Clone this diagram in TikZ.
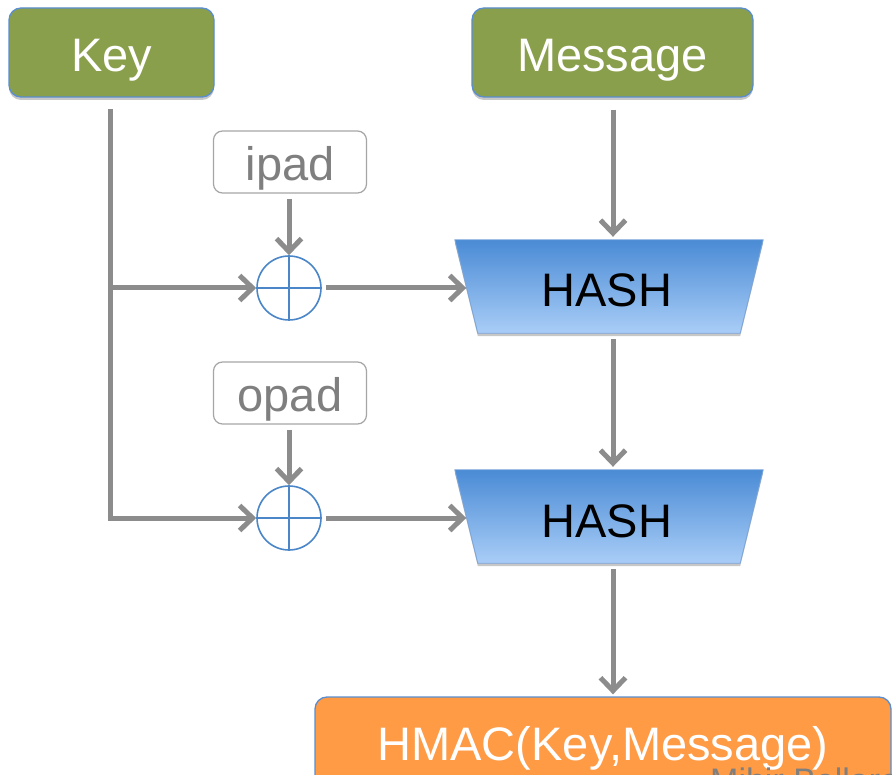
\documentclass[tikz,border=0pt]{standalone}
\usepackage{fontspec}
\setmainfont{Liberation Sans}
\usetikzlibrary{arrows.meta,shadows,calc}

\definecolor{keygreen}{HTML}{8A9F4B}
\definecolor{edgeblue}{HTML}{5A8ED0}
\definecolor{linegray}{HTML}{8C8C8C}
\definecolor{padgray}{HTML}{7F7F7F}
\definecolor{padedge}{HTML}{A6A6A6}
\definecolor{hashtop}{HTML}{4A8BD5}
\definecolor{hashbot}{HTML}{A9CDF7}
\definecolor{outorange}{HTML}{FF9A45}
\definecolor{xorblue}{HTML}{4A86C8}

\tikzset{
  bigfont/.style={font=\fontsize{47}{56}\selectfont},
  softshadow/.style={drop shadow={shadow xshift=0pt,shadow yshift=-3pt,opacity=.22,fill=black}},
  inputbox/.style={rectangle, rounded corners=12pt, draw=edgeblue, line width=1.3pt,
    fill=keygreen, text=white, inner sep=0pt, minimum height=89pt,
    text height=39pt, text depth=0pt, softshadow},
  padbox/.style={rectangle, rounded corners=9pt, draw=padedge, line width=1.2pt,
    fill=white, text=padgray, inner sep=0pt, minimum width=153pt, minimum height=62pt,
    text height=38pt, text depth=0pt},
  xorop/.style={circle, draw=xorblue, line width=1.6pt, fill=white, minimum size=64pt,
    inner sep=0pt,
    path picture={\draw[xorblue,line width=1.6pt]
      (path picture bounding box.north) -- (path picture bounding box.south)
      (path picture bounding box.west) -- (path picture bounding box.east);}},
  hashlabel/.style={rectangle, inner sep=0pt, minimum width=285pt, minimum height=93pt,
    text=black, text height=41pt, text depth=0pt},
  hashbody/.style={top color=hashtop, bottom color=hashbot, draw=edgeblue!80, line width=0.8pt, softshadow},
  outbox/.style={rectangle, rounded corners=12pt, draw=edgeblue, line width=1.3pt,
    fill=outorange, text=white, inner sep=0pt, minimum width=576pt, minimum height=94pt,
    text height=32pt, text depth=0pt, softshadow},
  flow/.style={draw=linegray, line width=5pt,
    -{Straight Barb[length=13pt,width=25pt]}},
  plainflow/.style={draw=linegray, line width=5pt},
}

\begin{document}
\begin{tikzpicture}[x=1pt,y=-1pt,bigfont]
\useasboundingbox (0,0) rectangle (892,775);
\fill[white] (0,0) rectangle (892,775);

% inputs
\node[inputbox, minimum width=205pt] (key) at (111.5,52.5) {Key};
\node[inputbox, minimum width=281pt] (msg) at (612.5,52.5) {Message};

% padding constants
\node[padbox] (ipad) at (290,162) {ipad};
\node[padbox] (opad) at (290,393) {opad};

% xor operators
\node[xorop] (x1) at (289,288) {};
\node[xorop] (x2) at (289,518) {};

% hash stages (trapezoid bodies, labels on top)
\node[hashlabel] (h1) at (609,286.5) {};
\node[hashlabel] (h2) at (609,516.5) {};
\foreach \h in {h1,h2}{
  \path[hashbody]
    ($(\h.north west)+(-11.5pt,0)$) -- ($(\h.north east)+(11.5pt,0)$)
    -- ($(\h.south east)+(-11.5pt,0)$) -- ($(\h.south west)+(11.5pt,0)$) -- cycle;
}
\node[hashlabel, xshift=-2pt] at (h1) {HASH};
\node[hashlabel, xshift=-2pt] at (h2) {HASH};

% output
\node[outbox] (hmac) at (603,744) {HMAC(Key,Message)};

% key distribution
\coordinate (kb) at (110,518);
\coordinate (kt) at (110,109);
\coordinate (k1) at (110,288);
\draw[plainflow] (kt) -- ([yshift=2.5pt]kb);
\draw[flow] (k1) -- (x1.west);
\draw[flow] ([xshift=-2.5pt]kb) -- (x2.west);

% pads into xors
\draw[flow, shorten <=5pt] (ipad.south -| x1.north) -- (x1.north);
\draw[flow, shorten <=5pt] (opad.south -| x2.north) -- (x2.north);

% xor outputs into hashes
\draw[flow, shorten <=4pt] (x1.east) -- (x1.east -| h1.west);
\draw[flow, shorten <=4pt] (x2.east) -- (x2.east -| h2.west);

% message and chaining
\draw[flow, shorten <=12pt, shorten >=3pt] (msg.south -| 613,0) -- (h1.north -| 613,0);
\draw[flow, shorten <=6pt, shorten >=3pt] (h1.south -| 613,0) -- (h2.north -| 613,0);
\draw[flow, shorten <=6pt, shorten >=2pt] (h2.south -| 613,0) -- (hmac.north -| 613,0);

% footer author line
\node[anchor=base west, text=padgray, font=\fontsize{34}{40}\selectfont, inner sep=0pt]
  (author) at (710,792) {Mihir Bellare};
\end{tikzpicture}
\end{document}
